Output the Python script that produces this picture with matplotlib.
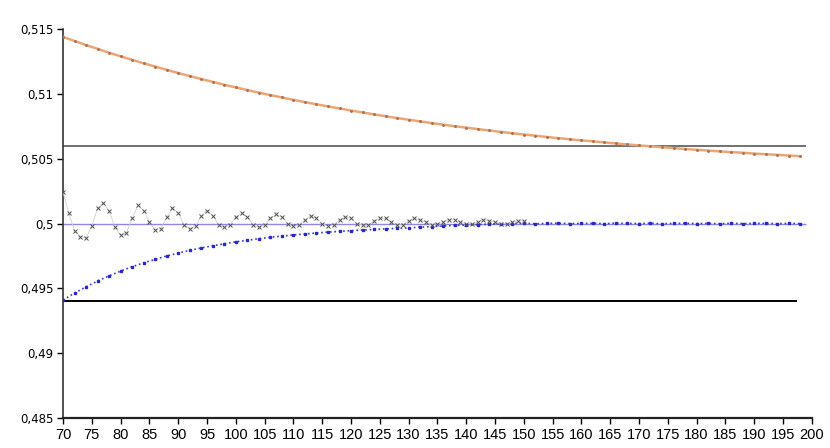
import numpy as np
import matplotlib.pyplot as plt
from matplotlib.ticker import FuncFormatter, MultipleLocator

# Series (x in steps of 2 for the smooth curves)
x_smooth = list(range(70, 199, 2))

orange = [0.5144, 0.51408, 0.51377, 0.51348, 0.51318, 0.5129, 0.51263, 0.51236,
          0.51211, 0.51186, 0.51161, 0.51138, 0.51115, 0.51093, 0.51071, 0.5105,
          0.5103, 0.5101, 0.50991, 0.50973, 0.50954, 0.50937, 0.5092, 0.50904,
          0.50888, 0.50872, 0.50857, 0.50842, 0.50828, 0.50814, 0.50801, 0.50788,
          0.50775, 0.50763, 0.50751, 0.5074, 0.50729, 0.50718, 0.50707, 0.50697,
          0.50687, 0.50678, 0.50668, 0.50659, 0.5065, 0.50642, 0.50634, 0.50626,
          0.50618, 0.5061, 0.50603, 0.50596, 0.50589, 0.50582, 0.50575, 0.50569,
          0.50563, 0.50557, 0.50551, 0.50546, 0.5054, 0.50535, 0.5053, 0.50525,
          0.5052]

blue = [0.4941, 0.49464, 0.49512, 0.49557, 0.49597, 0.49633, 0.49667, 0.49697,
        0.49724, 0.4975, 0.49772, 0.49793, 0.49812, 0.49829, 0.49844, 0.49859,
        0.49871, 0.49883, 0.49894, 0.49903, 0.49912, 0.4992, 0.49927, 0.49934,
        0.4994, 0.49945, 0.4995, 0.49955, 0.49959, 0.49963, 0.49966, 0.49972,
        0.49976, 0.49981, 0.49985, 0.49988, 0.49992, 0.49995, 0.49998, 0.5,
        0.50002, 0.49999, 0.50001, 0.50003, 0.5, 0.50001, 0.50002, 0.49999,
        0.50003, 0.50001, 0.5, 0.50002, 0.49999, 0.50001, 0.50002, 0.5,
        0.50001, 0.49999, 0.50002, 0.5, 0.50001, 0.50002, 0.49999, 0.50001,
        0.5]

# oscillating series, one point per unit
x_osc = list(range(70, 151))
osc = [0.5024, 0.5008, 0.4994, 0.4990, 0.4989, 0.4998, 0.5012, 0.5016, 0.5010, 0.4997,
       0.4991, 0.4993, 0.5004, 0.5014, 0.5010, 0.5001, 0.4995, 0.4996, 0.5005, 0.5012,
       0.5008, 0.4999, 0.4996, 0.4998, 0.5006, 0.5010, 0.5006, 0.4999, 0.4997, 0.4999,
       0.5005, 0.5008, 0.5005, 0.4999, 0.4997, 0.4999, 0.5004, 0.5007, 0.5005, 0.5000,
       0.4998, 0.4999, 0.5003, 0.5006, 0.5004, 0.5000, 0.4998, 0.4999, 0.5003, 0.5005,
       0.5004, 0.5000, 0.4999, 0.4999, 0.5002, 0.5004, 0.5004, 0.5001, 0.4999, 0.4999,
       0.5002, 0.5004, 0.5003, 0.5001, 0.4999, 0.5000, 0.5001, 0.5003, 0.5003, 0.5001,
       0.5000, 0.5000, 0.5001, 0.5003, 0.5002, 0.5001, 0.5000, 0.5000, 0.5001, 0.5002,
       0.5002]

# reference levels
upper_level = 0.506
mid_level = 0.5
lower_level = 0.494

fig = plt.figure(figsize=(8.3, 4.48), dpi=100)
ax = fig.add_axes([0.076, 0.067, 0.902, 0.868])

ax.hlines(upper_level, 70, 199, color='#4a4a4a', lw=1.1, zorder=2)
ax.hlines(lower_level, 70, 197.5, color='black', lw=1.4, zorder=2)
ax.hlines(mid_level, 70, 199, color='#8f86e6', lw=1.0, zorder=2)

ax.plot(x_smooth, orange, color='#eba678', lw=1.8, marker='.', ms=2.2,
        mfc='#b07050', mec='#b07050', zorder=3)
ax.plot(x_smooth, blue, color='#3a3ad8', lw=1.2, ls=':', marker='s', ms=1.8,
        mfc='#2828c8', mec='#2828c8', zorder=3)
ax.plot(x_osc, osc, color='#d0d0d0', lw=0.6, marker='x', ms=3.2, mew=0.7,
        mec='#505050', zorder=4)

ax.set_xlim(70, 200)
ax.set_ylim(0.485, 0.515)
ax.xaxis.set_major_locator(MultipleLocator(5))
ax.yaxis.set_major_locator(MultipleLocator(0.005))
ax.yaxis.set_major_formatter(FuncFormatter(lambda v, p: ('%g' % round(v, 3)).replace('.', ',')))

for s in ['top', 'right']:
    ax.spines[s].set_visible(False)
ax.spines['left'].set_color('#333333')
ax.spines['left'].set_linewidth(1.2)
ax.spines['bottom'].set_color('#222222')
ax.spines['bottom'].set_linewidth(1.6)

ax.tick_params(axis='y', direction='out', length=4, width=1, pad=3, labelsize=8.5)
ax.tick_params(axis='x', direction='out', length=4, width=1, pad=3, labelsize=10.5)
for lab in ax.get_xticklabels():
    lab.set_family(['Liberation Sans Narrow', 'Liberation Sans'])
for lab in ax.get_yticklabels():
    lab.set_family(['DejaVu Sans'])

fig.savefig('out.png', dpi=100, facecolor='white')
